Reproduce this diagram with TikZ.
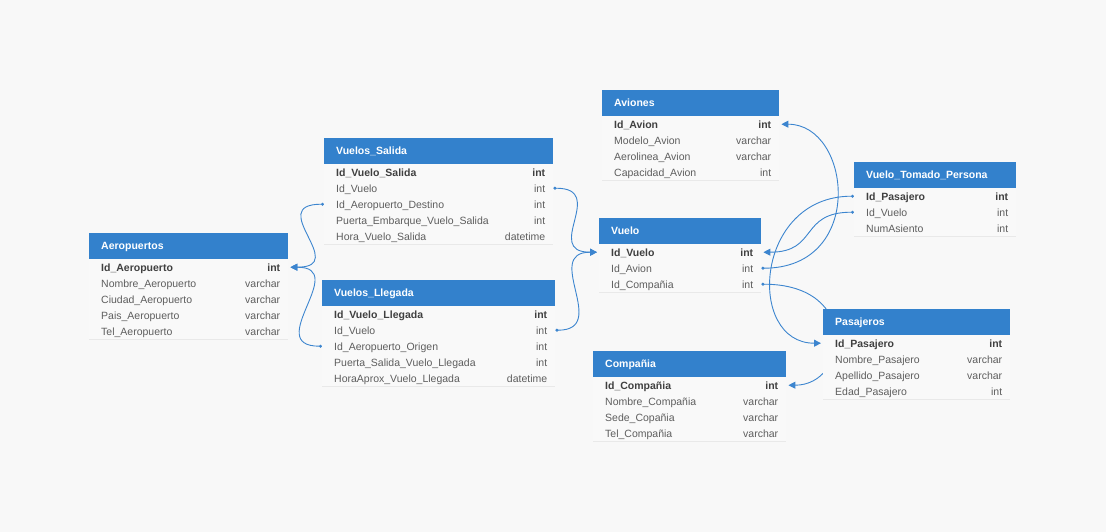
\documentclass[tikz,border=0pt]{standalone}
\usepackage{fontspec}
\setmainfont{Liberation Sans}
\usetikzlibrary{arrows.meta}

\definecolor{canvas}{HTML}{F8F8F8}
\definecolor{hdrblue}{HTML}{3381CC}
\definecolor{rowfill}{HTML}{F9F9F9}
\definecolor{sepline}{HTML}{E9E9E9}
\definecolor{keytext}{HTML}{404040}
\definecolor{fieldtext}{HTML}{5E5E5E}
\definecolor{linkblue}{HTML}{3C85CF}

\pgfdeclarelayer{bg}
\pgfdeclarelayer{links}
\pgfsetlayers{bg,links,main}

\tikzset{
  hdr/.style={rectangle, fill=hdrblue, minimum height=26pt, inner sep=0pt},
  hdrtext/.style={text=white, font=\fontsize{10.5}{12}\selectfont\bfseries,
    inner sep=0pt, text height=8pt, text depth=2.5pt, yshift=-1pt},
  rowbox/.style={rectangle, fill=rowfill, minimum height=16pt, inner sep=0pt},
  sep/.style={draw=sepline, line width=0.8pt},
  cell/.style={inner sep=0pt, text height=8pt, text depth=2.5pt, yshift=-1.5pt},
  link/.style={draw=linkblue, line width=0.9pt,
    {Circle[length=3pt]}-{Triangle[length=7pt,width=7pt]}},
}

% #1 id, #2 left, #3 top, #4 width, #5 title, #6 field/type list
\newcommand{\erdtable}[6]{%
  \node[hdr, minimum width=#4pt, anchor=north west] (#1) at (#2,#3) {};
  \node[hdrtext, anchor=west] (#1-title) at ([xshift=12pt]#1.west) {#5};
  \foreach [count=\i] \f/\t in {#6} {%
    \ifnum\i=1 \def\rf{\bfseries}\def\rc{keytext}\else\def\rf{}\def\rc{fieldtext}\fi
    \node[rowbox, minimum width=#4pt, anchor=north west] (#1-\i) at (#2,{#3+26+(\i-1)*16}) {};
    \draw[sep] (#1-\i.south west) -- (#1-\i.south east);
    \node[cell, font=\fontsize{10.5}{12}\selectfont\rf, text=\rc, anchor=west]
      (#1-\i-name) at ([xshift=12pt]#1-\i.west) {\f};
    \node[cell, font=\fontsize{10.5}{12}\selectfont\rf, text=\rc, anchor=east]
      (#1-\i-type) at ([xshift=-8pt]#1-\i.east) {\t};
  }%
}

\begin{document}
\begin{tikzpicture}[x=1pt, y=-1pt]
\begin{pgfonlayer}{bg}
  \fill[canvas] (0,0) rectangle (1106,532);
\end{pgfonlayer}
\useasboundingbox (0,0) rectangle (1106,532);

\erdtable{aer}{89}{233}{199}{Aeropuertos}{%
  Id\_Aeropuerto/int, Nombre\_Aeropuerto/varchar, Ciudad\_Aeropuerto/varchar,
  Pais\_Aeropuerto/varchar, Tel\_Aeropuerto/varchar}

\erdtable{vs}{324}{138}{229}{Vuelos\_Salida}{%
  Id\_Vuelo\_Salida/int, Id\_Vuelo/int, Id\_Aeropuerto\_Destino/int,
  Puerta\_Embarque\_Vuelo\_Salida/int, Hora\_Vuelo\_Salida/datetime}

\erdtable{vl}{322}{280}{233}{Vuelos\_Llegada}{%
  Id\_Vuelo\_Llegada/int, Id\_Vuelo/int, Id\_Aeropuerto\_Origen/int,
  Puerta\_Salida\_Vuelo\_Llegada/int, HoraAprox\_Vuelo\_Llegada/datetime}

\erdtable{av}{602}{90}{177}{Aviones}{%
  Id\_Avion/int, Modelo\_Avion/varchar, Aerolinea\_Avion/varchar,
  Capacidad\_Avion/int}

\erdtable{vu}{599}{218}{162}{Vuelo}{%
  Id\_Vuelo/int, Id\_Avion/int, Id\_Compañia/int}

\erdtable{vtp}{854}{162}{162}{Vuelo\_Tomado\_Persona}{%
  Id\_Pasajero/int, Id\_Vuelo/int, NumAsiento/int}

\erdtable{pas}{823}{309}{187}{Pasajeros}{%
  Id\_Pasajero/int, Nombre\_Pasajero/varchar, Apellido\_Pasajero/varchar,
  Edad\_Pasajero/int}

\erdtable{comp}{593}{351}{193}{Compañia}{%
  Id\_Compañia/int, Nombre\_Compañia/varchar, Sede\_Copañia/varchar,
  Tel\_Compañia/varchar}

% foreign keys, drawn behind the tables
\begin{pgfonlayer}{links}
  \draw[link] (vs-3.west) .. controls +(-60,0) and +(60,0) .. ([xshift=2pt]aer-1.east);
  \draw[link] (vl-3.west) .. controls +(-60,0) and +(60,0) .. ([xshift=2pt]aer-1.east);
  \draw[link] (vs-2.east) .. controls +(55,0) and +(-55,0) .. ([xshift=-2pt]vu-1.west);
  \draw[link] (vl-2.east) .. controls +(55,0) and +(-55,0) .. ([xshift=-2pt]vu-1.west);
  \draw[link] (vu-2.east) .. controls +(105,0) and +(70,0) .. ([xshift=2pt]av-1.east);
  \draw[link] (vtp-1.west) .. controls +(-100,0) and +(-75,0) .. ([xshift=-2pt]pas-1.west);
  \draw[link] (vtp-2.west) .. controls +(-55,0) and +(55,0) .. ([xshift=2pt]vu-1.east);
  \draw[link] (vu-3.east) .. controls +(100,0) and +(60,0) .. ([xshift=2pt]comp-1.east);
\end{pgfonlayer}
\end{tikzpicture}
\end{document}
